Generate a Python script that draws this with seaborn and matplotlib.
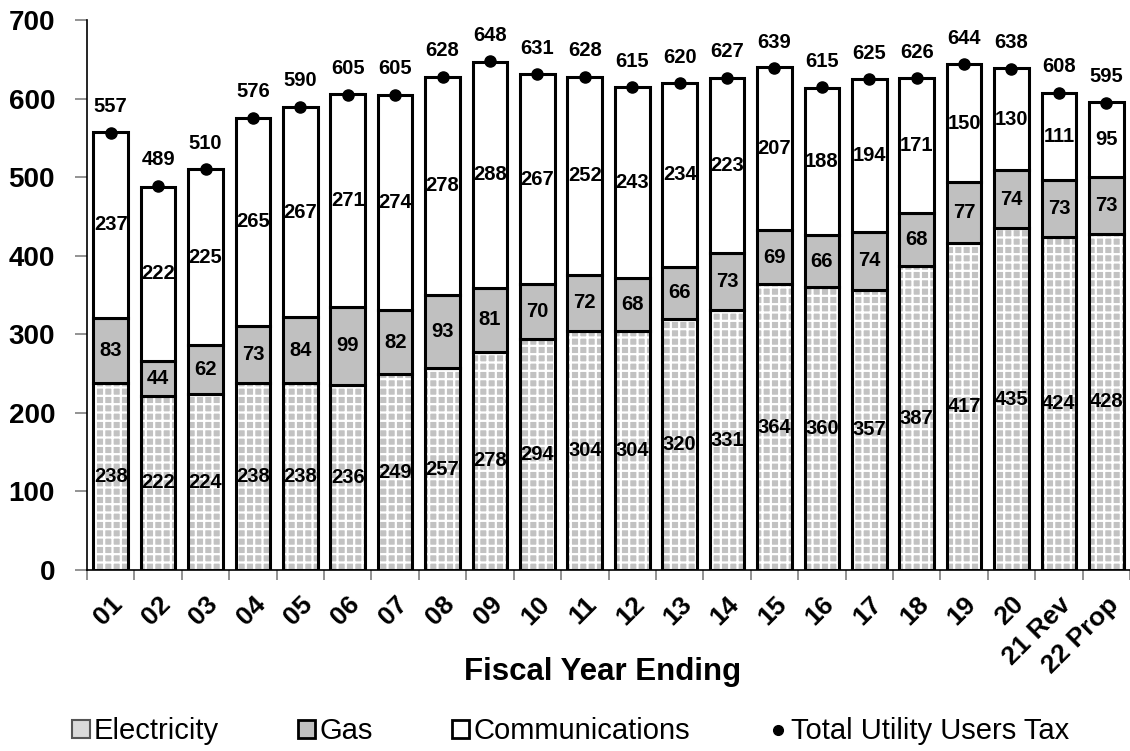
import pandas as pd
import numpy as np
import matplotlib
matplotlib.use('Agg')
import matplotlib.pyplot as plt
import seaborn as sns
from matplotlib.patches import Patch
from matplotlib.lines import Line2D

years = ['01', '02', '03', '04', '05', '06', '07', '08', '09', '10', '11', '12',
         '13', '14', '15', '16', '17', '18', '19', '20', '21 Rev', '22 Prop']
electricity = [238, 222, 224, 238, 238, 236, 249, 257, 278, 294, 304, 304,
               320, 331, 364, 360, 357, 387, 417, 435, 424, 428]
gas = [83, 44, 62, 73, 84, 99, 82, 93, 81, 70, 72, 68,
       66, 73, 69, 66, 74, 68, 77, 74, 73, 73]
communications = [237, 222, 225, 265, 267, 271, 274, 278, 288, 267, 252, 243,
                  234, 223, 207, 188, 194, 171, 150, 130, 111, 95]
total = [557, 489, 510, 576, 590, 605, 605, 628, 648, 631, 628, 615,
         620, 627, 639, 615, 625, 626, 644, 638, 608, 595]

df = pd.DataFrame({'year': years, 'elec': electricity, 'gas': gas,
                   'comm': communications, 'total': total})
df['gas_bottom'] = df['elec']
df['comm_bottom'] = df['elec'] + df['gas']

sns.set_style('white')
plt.rcParams['font.family'] = ['Liberation Sans', 'DejaVu Sans']
plt.rcParams['hatch.linewidth'] = 1.6
plt.rcParams['text.color'] = 'black'
plt.rcParams['axes.labelcolor'] = 'black'
plt.rcParams['xtick.labelcolor'] = 'black'
plt.rcParams['ytick.labelcolor'] = 'black'

fig = plt.figure(figsize=(11.3, 7.51), dpi=100)
ax = fig.add_axes([0.077, 0.241, 0.923, 0.732])

w = 0.73
elec_face = '#c2c2c2'
# electricity: checkered grey fill, then black outline on top
sns.barplot(data=df, x='year', y='elec', color=elec_face, saturation=1, width=w,
            edgecolor='white', linewidth=0, hatch='++', ax=ax)
sns.barplot(data=df, x='year', y='elec', fill=False, width=w,
            edgecolor='black', linewidth=2.2, ax=ax)
sns.barplot(data=df, x='year', y='gas', bottom=df['gas_bottom'], color='#c0c0c0',
            saturation=1, width=w, edgecolor='black', linewidth=2.2, ax=ax)
sns.barplot(data=df, x='year', y='comm', bottom=df['comm_bottom'], color='white',
            saturation=1, width=w, edgecolor='black', linewidth=2.2, ax=ax)
ax.plot(np.arange(len(years)), df['total'], 'o', color='black', markersize=8, zorder=5)

fs = 14.5
for i, r in df.iterrows():
    ax.text(i, r['elec'] / 2, str(r['elec']), ha='center', va='center',
            fontsize=fs, fontweight='bold')
    ax.text(i, r['gas_bottom'] + r['gas'] / 2, str(r['gas']), ha='center', va='center',
            fontsize=fs, fontweight='bold')
    ax.text(i, r['comm_bottom'] + r['comm'] / 2, str(r['comm']), ha='center', va='center',
            fontsize=fs, fontweight='bold')
    ax.text(i, r['total'] + 21, str(r['total']), ha='center', va='bottom',
            fontsize=fs, fontweight='bold')

ax.set_ylim(0, 700)
ax.set_xlim(-0.5, len(years) - 0.6)
ax.set_yticks(range(0, 701, 100))
ax.tick_params(axis='y', which='major', direction='out', length=9, width=1.2, left=True,
               color='#808080', labelsize=20, pad=14)
for lab in ax.get_yticklabels():
    lab.set_fontweight('bold')
ax.set_xticks(np.arange(len(years)))
ax.set_xticklabels(years, rotation=45, ha='right', rotation_mode='anchor',
                   fontsize=19, fontweight='bold')
ax.set_xticks(np.arange(len(years) + 1) - 0.5, minor=True)
ax.tick_params(axis='x', which='major', length=0, pad=16)
ax.tick_params(axis='x', which='minor', direction='out', length=7, width=1.2,
               bottom=True, color='#808080')
ax.set_xlabel('Fiscal Year Ending', fontsize=22.5, fontweight='bold', va='top')
ax.xaxis.set_label_coords(0.494, -0.158)
ax.set_ylabel('')
for s in ['top', 'right']:
    ax.spines[s].set_visible(False)
for s in ['left', 'bottom']:
    ax.spines[s].set_color('black')
    ax.spines[s].set_linewidth(1.2)

handles = [Patch(facecolor='#dadada', edgecolor='#555555', linewidth=1.5),
           Patch(facecolor='#c0c0c0', edgecolor='black', linewidth=2),
           Patch(facecolor='white', edgecolor='black', linewidth=2),
           Line2D([], [], marker='o', color='black', linestyle='none', markersize=7)]
fig.legend(handles, ['Electricity', 'Gas', 'Communications', 'Total Utility Users Tax'],
           loc='center', bbox_to_anchor=(0.505, 0.026), ncol=4, frameon=False,
           fontsize=21, handlelength=0.6, handleheight=0.6, handletextpad=0.15,
           columnspacing=2.7, borderpad=0)

plt.savefig('out.png', dpi=100)
